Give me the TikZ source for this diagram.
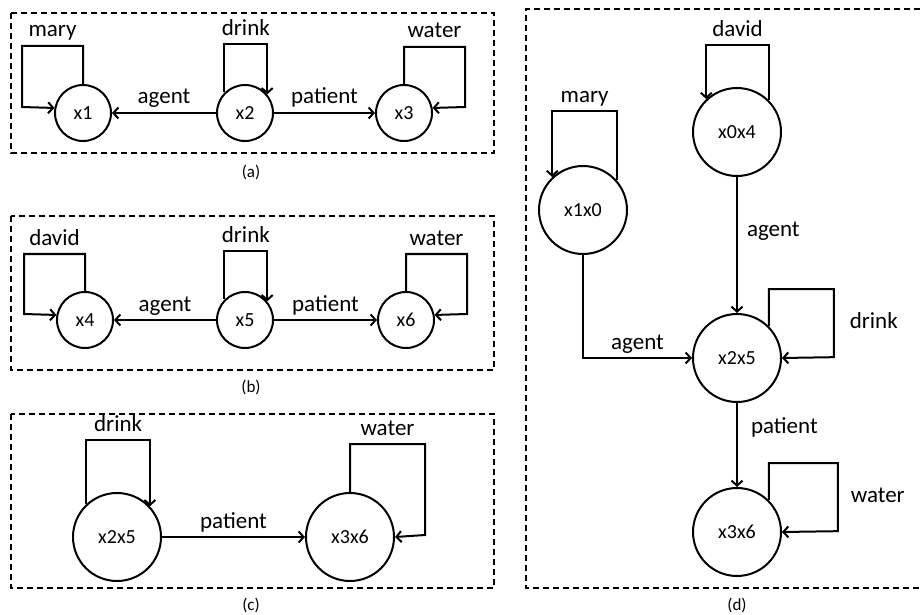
\documentclass[tikz,border=0pt]{standalone}
\usepackage{fontspec}
\setmainfont{Carlito}
\usepackage{tikz}
\usetikzlibrary{arrows.meta,positioning}
\tikzset{
  var/.style={draw=black, circle, line width=2pt, inner sep=0pt, minimum size=56pt, font=\fontsize{20}{24}\selectfont},
  bigvar/.style={var, minimum size=88pt},
  panel/.style={draw=black, line width=2pt, dash pattern=on 6pt off 4pt},
  arrow/.style={-{Straight Barb[length=5pt,width=11pt]}, line width=2pt},
  rel/.style={font=\fontsize{23}{27}\selectfont, inner sep=3pt, text height=15pt, text depth=5pt},
  caption/.style={font=\fontsize{17}{20}\selectfont, inner sep=0pt}
}
\begin{document}
\begin{tikzpicture}[x=1pt, y=-1pt]
\useasboundingbox (0,0) rectangle (922,615);
% (a)
\draw[panel] (11,13) rectangle (494,153);
\node[var] (x1) at (83,113) {x1};
\node[var, right=104pt of x1] (x2) {x2};
\node[var, right=101pt of x2] (x3) {x3};
\draw[arrow] (x1.north) -- ++(0,-38) -| node[pos=0.25, above, rel] {mary} ++(-61,61) -- (x1.170);
\draw[arrow] (x2.135) -- ++(0,-48) -| node[pos=0.25, above, rel] {drink} (x2.40);
\draw[arrow] (x3.north) -- ++(0,-37) -| node[pos=0.25, above, rel] {water} ++(61,60) -- (x3.10);
\draw[arrow] (x2) -- node[above, rel] {agent} (x1);
\draw[arrow] (x2) -- node[above, rel] {patient} (x3);
\node[caption] (capa) at (251,172) {(a)};
% (b)
\draw[panel] (11,216) rectangle (494,370);
\node[var] (x4) at (85,320) {x4};
\node[var, right=102pt of x4] (x5) {x5};
\node[var, right=103pt of x5] (x6) {x6};
\draw[arrow] (x4.north) -- ++(0,-37) -| node[pos=0.25, above, rel] {david} ++(-61,60) -- (x4.170);
\draw[arrow] (x5.135) -- ++(0,-48) -| node[pos=0.25, above, rel] {drink} (x5.40);
\draw[arrow] (x6.north) -- ++(0,-37) -| node[pos=0.25, above, rel] {water} ++(61,60) -- (x6.10);
\draw[arrow] (x5) -- node[above, rel] {agent} (x4);
\draw[arrow] (x5) -- node[above, rel] {patient} (x6);
\node[caption] (capb) at (251,387) {(b)};
% (c)
\draw[panel] (11,414) rectangle (494,588);
\node[bigvar] (c25) at (117,537) {x2x5};
\node[bigvar, right=143pt of c25] (c36) {x3x6};
\draw[arrow] (c25.133) -- ++(0,-64) -| node[pos=0.25, above, rel] {drink} (c25.43);
\draw[arrow] (c36.north) -- ++(0,-48) -| node[pos=0.25, above, rel] {water} ++(75,91) -- (c36.east);
\draw[arrow] (c25) -- node[above, rel] {patient} (c36);
\node[caption] (capc) at (251,605) {(c)};
% (d)
\draw[panel] (930,9) -| (526,588) -- (930,588);
\node[bigvar] (d04) at (737,132) {x0x4};
\node[bigvar] (d10) at (583,210) {x1x0};
\node[bigvar, below=136pt of d04] (d25) {x2x5};
\node[bigvar, below=84pt of d25] (d36) {x3x6};
\draw[arrow] (d04.45) -- ++(0,-55) -| node[pos=0.25, above, rel] {david} (d04.133);
\draw[arrow] (d10.41) -- ++(0,-69) -| node[pos=0.25, above, rel] {mary} (d10.133);
\draw[arrow] (d04) -- node[pos=0.4, right=6pt, rel] {agent} (d25);
\draw[arrow] (d10) |- node[pos=0.75, above, rel] {agent} (d25);
\draw[arrow] (d25.45) -- ++(0,-37) -| node[pos=0.75, right=12pt, rel] {drink} ++(65,68) -- (d25.east);
\draw[arrow] (d25) -- node[pos=0.3, right=10pt, rel] {patient} (d36);
\draw[arrow] (d36.45) -- ++(0,-37) -| node[pos=0.75, right=9pt, rel] {water} ++(69,68) -- (d36.east);
\node[caption] (capd) at (737,605) {(d)};
\end{tikzpicture}
\end{document}
